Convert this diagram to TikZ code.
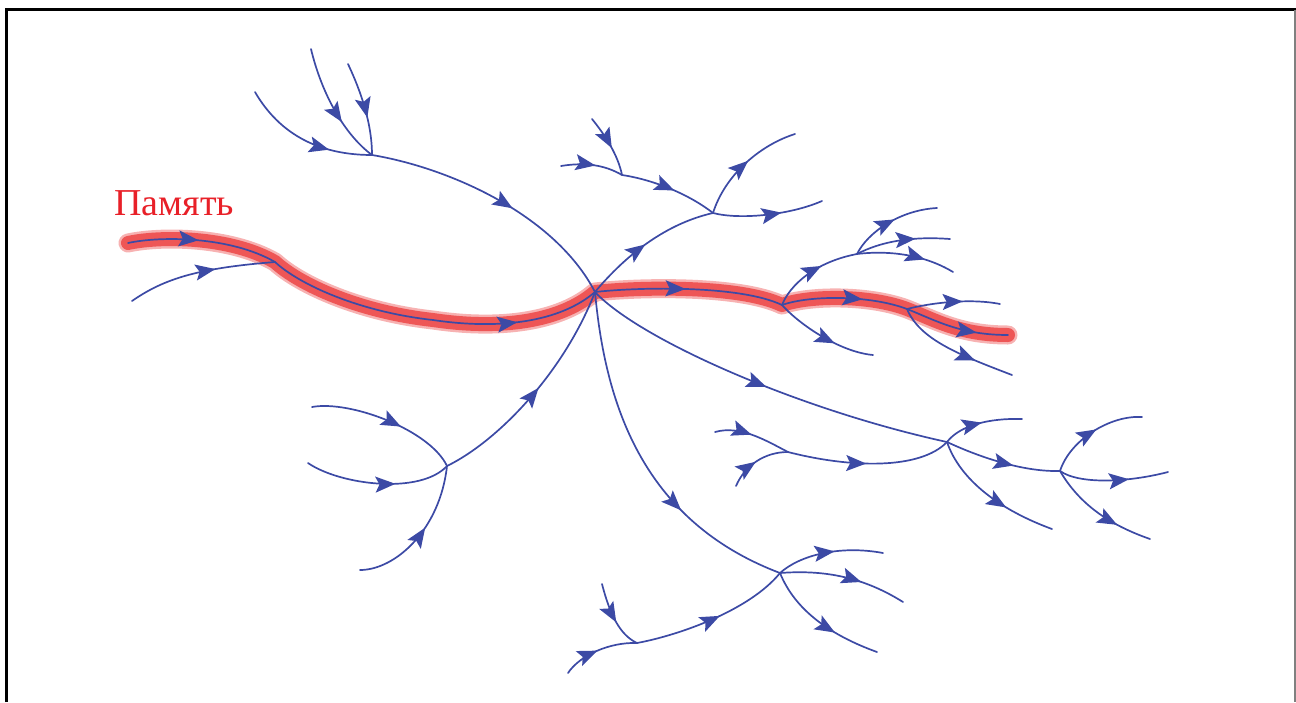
\documentclass[tikz,border=0pt]{standalone}
\usepackage{fontspec}
\setmainfont{Liberation Serif}
\usetikzlibrary{arrows.meta,decorations.markings}

\definecolor{ink}{RGB}{60,74,165}
\definecolor{memred}{RGB}{238,86,86}
\definecolor{memhalo}{RGB}{247,178,178}
\definecolor{labelred}{RGB}{232,32,40}

\tikzset{
  wire/.style={draw=ink, line width=1.7pt, line cap=round, line join=round},
  flow/.style={postaction={decorate, decoration={markings,
      mark=at position #1 with {\arrow[ink]{Stealth[length=20pt,width=16pt,inset=4pt]}}}}},
  flow/.default=0.5,
}

\begin{document}
\begin{tikzpicture}[x=1pt,y=-1pt]
\useasboundingbox (0,0) rectangle (1296,702);

% frame
\draw[line width=3pt] (6.5,702) -- (6.5,9.8) -- (1296,9.8);
\draw[gray, line width=1.6pt] (1295.2,9.8) -- (1295.2,702);

% junctions and ends
\coordinate (H)    at (595,292);
\coordinate (M0)   at (128,243);
\coordinate (M1)   at (275,262);
\coordinate (Mm)   at (433,320);
\coordinate (R1)   at (782,305);
\coordinate (R2)   at (907,309);
\coordinate (Mend) at (1008,335);
\coordinate (L0)   at (132,301);

\coordinate (J1) at (372,155);
\coordinate (A1) at (255,92);
\coordinate (A2) at (311,49);
\coordinate (A3) at (348,64);

\coordinate (J2) at (447,466);
\coordinate (B1) at (312,407);
\coordinate (B2) at (308,463);
\coordinate (B3) at (360,570);

\coordinate (J3) at (713,213);
\coordinate (C1) at (795,134);
\coordinate (C2) at (822,201);
\coordinate (J4) at (622,175);
\coordinate (D1) at (592,119);
\coordinate (D2) at (561,166);

\coordinate (J5) at (857,254);
\coordinate (E1) at (937,208);
\coordinate (E2) at (950,239);
\coordinate (E3) at (953,272);
\coordinate (F1) at (873,355);
\coordinate (G1) at (1000,304);
\coordinate (G2) at (1012,375);

\coordinate (K1) at (947,442);
\coordinate (K2) at (788,452);
\coordinate (K3) at (715,432);
\coordinate (K4) at (736,486);
\coordinate (K5) at (1060,471);
\coordinate (L1) at (1022,419);
\coordinate (L2) at (1052,529);
\coordinate (N1) at (1142,417);
\coordinate (N2) at (1168,472);
\coordinate (N3) at (1150,539);

\coordinate (P1) at (780,573);
\coordinate (P2) at (637,643);
\coordinate (P3) at (602,584);
\coordinate (P4) at (568,673);
\coordinate (Q1) at (883,553);
\coordinate (Q2) at (903,602);
\coordinate (Q3) at (877,652);

% highlighted memory trace
\def\memtrace{(M0) .. controls (160,236) and (230,236) .. (M1)
  .. controls (300,285) and (360,312) .. (Mm)
  .. controls (500,330) and (560,322) .. (H)
  .. controls (640,287) and (740,285) .. (R1)
  .. controls (810,295) and (870,295) .. (R2)
  .. controls (935,320) and (960,335) .. (Mend)}
\draw[memhalo, line width=19pt, line cap=round, line join=round] \memtrace;
\draw[memred, line width=14pt, line cap=round, line join=round] \memtrace;

\node[anchor=base west, inner sep=0pt, text=labelred, font=\fontsize{38}{42}\selectfont]
  (memlabel) at (114,215) {Память};

% memory trace, left part
\draw[wire, flow=0.47] (M0) .. controls (160,236) and (230,236) .. (M1);
\draw[wire] (M1) .. controls (300,285) and (360,312) .. (Mm);
\draw[wire, flow=0.5] (Mm) .. controls (500,330) and (560,322) .. (H);
\draw[wire, flow=0.6] (L0) .. controls (165,278) and (200,268) .. (M1);

% memory trace, right part
\draw[wire, flow=0.48] (H) .. controls (640,287) and (740,285) .. (R1);
\draw[wire, flow=0.64] (R1) .. controls (810,295) and (870,295) .. (R2);
\draw[wire, flow=0.7] (R2) .. controls (935,320) and (960,335) .. (Mend);

% upper left tree
\draw[wire, flow=0.56] (J1) .. controls (450,168) and (555,215) .. (H);
\draw[wire, flow=0.69] (A1) .. controls (280,135) and (320,155) .. (J1);
\draw[wire, flow=0.64] (A2) .. controls (322,95) and (345,135) .. (J1);
\draw[wire, flow=0.6] (A3) .. controls (365,100) and (372,130) .. (J1);

% lower left tree
\draw[wire, flow=0.52] (J2) .. controls (500,440) and (565,370) .. (H);
\draw[wire, flow=0.6] (B1) .. controls (350,400) and (430,430) .. (J2);
\draw[wire, flow=0.62] (B2) .. controls (340,485) and (420,495) .. (J2);
\draw[wire, flow=0.55] (B3) .. controls (395,570) and (440,530) .. (J2);

% upper right tree
\draw[wire, flow=0.48] (H) .. controls (620,262) and (660,225) .. (J3);
\draw[wire, flow=0.54] (J3) .. controls (725,175) and (760,145) .. (C1);
\draw[wire, flow=0.62] (J3) .. controls (740,220) and (790,215) .. (C2);
\draw[wire, flow=0.55] (J4) .. controls (655,180) and (690,195) .. (J3);
\draw[wire, flow=0.55] (D1) .. controls (605,135) and (618,155) .. (J4);
\draw[wire, flow=0.55] (D2) .. controls (585,162) and (605,165) .. (J4);

% branches off the right part of the trace
\draw[wire, flow=0.6] (R1) .. controls (790,285) and (815,262) .. (J5);
\draw[wire, flow=0.54] (J5) .. controls (868,232) and (900,210) .. (E1);
\draw[wire, flow=0.64] (J5) .. controls (880,242) and (910,236) .. (E2);
\draw[wire, flow=0.69] (J5) .. controls (890,250) and (925,255) .. (E3);
\draw[wire, flow=0.62] (R1) .. controls (800,325) and (840,352) .. (F1);
\draw[wire, flow=0.6] (R2) .. controls (930,303) and (970,298) .. (G1);
\draw[wire, flow=0.69] (R2) .. controls (920,340) and (960,355) .. (G2);

% lower right tree
\draw[wire, flow=0.51] (H) .. controls (640,340) and (800,410) .. (K1);
\draw[wire, flow=0.48] (K2) .. controls (850,468) and (920,470) .. (K1);
\draw[wire, flow=0.48] (K3) .. controls (740,425) and (765,440) .. (K2);
\draw[wire, flow=0.48] (K4) .. controls (745,465) and (765,452) .. (K2);
\draw[wire, flow=0.5] (K1) .. controls (960,425) and (990,418) .. (L1);
\draw[wire, flow=0.64] (K1) .. controls (960,480) and (1000,510) .. (L2);
\draw[wire, flow=0.6] (K1) .. controls (975,455) and (1020,472) .. (K5);
\draw[wire, flow=0.54] (K5) .. controls (1070,440) and (1110,415) .. (N1);
\draw[wire, flow=0.64] (K5) .. controls (1080,485) and (1130,482) .. (N2);
\draw[wire, flow=0.69] (K5) .. controls (1080,505) and (1110,525) .. (N3);

% lower tree
\draw[wire, flow=0.67] (H) .. controls (605,400) and (640,520) .. (P1);
\draw[wire, flow=0.55] (P1) .. controls (800,555) and (840,545) .. (Q1);
\draw[wire, flow=0.64] (P1) .. controls (820,570) and (860,575) .. (Q2);
\draw[wire, flow=0.64] (P1) .. controls (795,610) and (830,635) .. (Q3);
\draw[wire, flow=0.54] (P2) .. controls (680,635) and (750,610) .. (P1);
\draw[wire, flow=0.58] (P3) .. controls (610,615) and (620,635) .. (P2);
\draw[wire, flow=0.48] (P4) .. controls (580,655) and (610,642) .. (P2);
\end{tikzpicture}
\end{document}
